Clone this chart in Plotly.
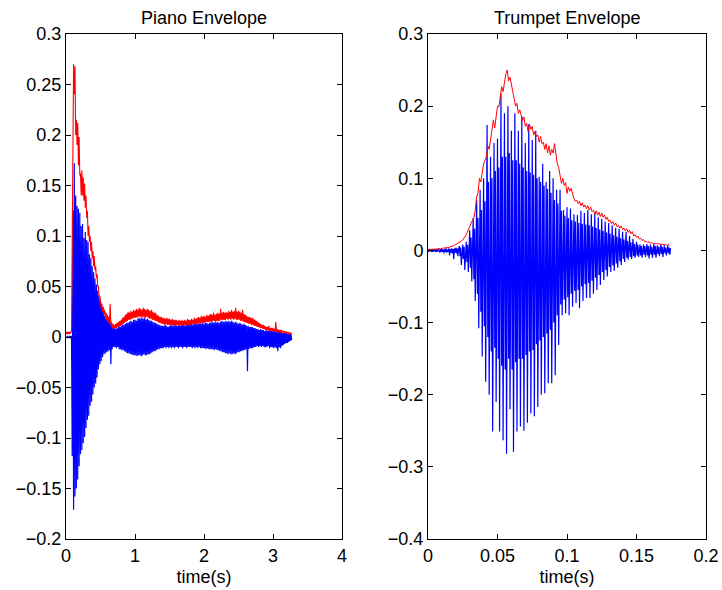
import numpy as np
import plotly.graph_objects as go

# Sample spacing of each recording (seconds)
piano_dt = 0.01
trumpet_dt = 0.0005
trumpet_env_dt = 0.001

# Piano waveform (alternating crest / trough samples), 0.1 s per row
piano_signal = [
    0.0, -0.001, 0.001, -0.001, 0.0, -0.001, 0.001, -0.001, 0.001, -0.118,
    0.125, -0.171, 0.172, -0.158, 0.14, -0.15, 0.13, -0.141, 0.127, -0.128,
    0.123, -0.116, 0.11, -0.112, 0.112, -0.105, 0.098, -0.099, 0.104, -0.09,
    0.096, -0.082, 0.094, -0.078, 0.082, -0.068, 0.078, -0.064, 0.07, -0.057,
    0.064, -0.05, 0.058, -0.046, 0.052, -0.04, 0.046, -0.032, 0.041, -0.027,
    0.036, -0.024, 0.03, -0.02, 0.027, -0.017, 0.021, -0.016, 0.019, -0.015,
    0.018, -0.014, 0.016, -0.013, 0.014, -0.027, 0.012, -0.012, 0.01, -0.01,
    0.009, -0.01, 0.008, -0.011, 0.009, -0.01, 0.01, -0.012, 0.01, -0.012,
    0.011, -0.013, 0.012, -0.013, 0.012, -0.014, 0.013, -0.015, 0.014, -0.016,
    0.014, -0.016, 0.015, -0.017, 0.016, -0.017, 0.015, -0.018, 0.017, -0.018,
    0.017, -0.018, 0.016, -0.019, 0.018, -0.018, 0.019, -0.018, 0.018, -0.019,
    0.019, -0.018, 0.018, -0.017, 0.019, -0.018, 0.017, -0.018, 0.018, -0.017,
    0.017, -0.017, 0.016, -0.016, 0.016, -0.015, 0.015, -0.014, 0.014, -0.014,
    0.014, -0.013, 0.013, -0.012, 0.012, -0.012, 0.012, -0.011, 0.011, -0.011,
    0.011, -0.011, 0.011, -0.01, 0.012, -0.011, 0.011, -0.01, 0.01, -0.011,
    0.011, -0.01, 0.012, -0.011, 0.011, -0.01, 0.011, -0.011, 0.012, -0.01,
    0.011, -0.01, 0.011, -0.011, 0.012, -0.01, 0.011, -0.01, 0.012, -0.011,
    0.012, -0.01, 0.011, -0.01, 0.012, -0.011, 0.012, -0.01, 0.013, -0.01,
    0.012, -0.01, 0.013, -0.011, 0.012, -0.01, 0.013, -0.011, 0.013, -0.01,
    0.013, -0.011, 0.013, -0.01, 0.014, -0.011, 0.013, -0.011, 0.014, -0.011,
    0.013, -0.011, 0.014, -0.012, 0.014, -0.011, 0.013, -0.012, 0.014, -0.012,
    0.014, -0.012, 0.015, -0.012, 0.014, -0.013, 0.015, -0.012, 0.014, -0.013,
    0.015, -0.013, 0.014, -0.014, 0.015, -0.014, 0.016, -0.015, 0.015, -0.015,
    0.015, -0.016, 0.016, -0.016, 0.015, -0.017, 0.016, -0.016, 0.015, -0.017,
    0.016, -0.017, 0.015, -0.016, 0.014, -0.017, 0.015, -0.016, 0.014, -0.015,
    0.013, -0.015, 0.014, -0.014, 0.013, -0.014, 0.012, -0.013, 0.013, -0.013,
    0.012, -0.012, 0.011, -0.034, 0.011, -0.012, 0.01, -0.011, 0.01, -0.011,
    0.01, -0.011, 0.009, -0.01, 0.009, -0.01, 0.008, -0.009, 0.008, -0.01,
    0.007, -0.009, 0.008, -0.01, 0.007, -0.009, 0.007, -0.01, 0.006, -0.01,
    0.007, -0.01, 0.006, -0.009, 0.006, -0.011, 0.007, -0.01, 0.006, -0.01,
    0.006, -0.011, 0.005, -0.01, 0.006, -0.011, 0.005, -0.014, 0.005, -0.01,
    0.005, -0.011, 0.005, -0.009, 0.004, -0.008, 0.004, -0.007, 0.004, -0.006,
    0.004, -0.006, 0.003, -0.005, 0.003, -0.004, 0.003, -0.003,
]

# Piano amplitude envelope, same spacing
piano_envelope = [
    0.005, 0.003, 0.005, 0.003, 0.005, 0.003, 0.005, 0.004, 0.006, 0.126,
    0.17, 0.27, 0.24, 0.268, 0.2, 0.215, 0.19, 0.212, 0.17, 0.198,
    0.16, 0.162, 0.14, 0.165, 0.14, 0.158, 0.135, 0.152, 0.128, 0.14,
    0.118, 0.125, 0.1, 0.11, 0.094, 0.1, 0.085, 0.094, 0.078, 0.085,
    0.07, 0.08, 0.066, 0.07, 0.058, 0.062, 0.05, 0.05, 0.04, 0.04,
    0.036, 0.028, 0.033, 0.025, 0.03, 0.022, 0.027, 0.02, 0.024, 0.017,
    0.022, 0.015, 0.02, 0.013, 0.033, 0.012, 0.015, 0.009, 0.013, 0.008,
    0.012, 0.008, 0.013, 0.009, 0.014, 0.01, 0.015, 0.01, 0.016, 0.011,
    0.017, 0.012, 0.019, 0.013, 0.02, 0.014, 0.022, 0.015, 0.023, 0.016,
    0.025, 0.017, 0.024, 0.017, 0.026, 0.018, 0.025, 0.018, 0.027, 0.019,
    0.026, 0.019, 0.028, 0.019, 0.027, 0.02, 0.029, 0.02, 0.028, 0.019,
    0.027, 0.02, 0.029, 0.019, 0.028, 0.019, 0.027, 0.02, 0.028, 0.019,
    0.027, 0.018, 0.026, 0.018, 0.027, 0.017, 0.025, 0.017, 0.024, 0.016,
    0.024, 0.016, 0.022, 0.015, 0.021, 0.014, 0.02, 0.014, 0.02, 0.013,
    0.019, 0.013, 0.019, 0.012, 0.018, 0.013, 0.019, 0.012, 0.018, 0.012,
    0.018, 0.012, 0.017, 0.012, 0.018, 0.011, 0.017, 0.012, 0.017, 0.011,
    0.017, 0.012, 0.016, 0.011, 0.017, 0.012, 0.016, 0.011, 0.017, 0.012,
    0.016, 0.011, 0.017, 0.012, 0.016, 0.012, 0.018, 0.012, 0.017, 0.012,
    0.017, 0.012, 0.018, 0.013, 0.017, 0.012, 0.019, 0.013, 0.018, 0.013,
    0.019, 0.013, 0.02, 0.014, 0.019, 0.013, 0.021, 0.014, 0.02, 0.014,
    0.021, 0.014, 0.02, 0.015, 0.022, 0.015, 0.021, 0.015, 0.022, 0.015,
    0.023, 0.015, 0.022, 0.016, 0.024, 0.016, 0.022, 0.015, 0.023, 0.016,
    0.024, 0.016, 0.023, 0.016, 0.028, 0.017, 0.024, 0.017, 0.025, 0.017,
    0.024, 0.017, 0.025, 0.018, 0.024, 0.017, 0.026, 0.018, 0.025, 0.017,
    0.027, 0.018, 0.025, 0.017, 0.026, 0.018, 0.029, 0.017, 0.025, 0.017,
    0.026, 0.017, 0.025, 0.016, 0.024, 0.016, 0.027, 0.015, 0.023, 0.015,
    0.022, 0.014, 0.021, 0.014, 0.02, 0.013, 0.02, 0.013, 0.019, 0.012,
    0.019, 0.012, 0.018, 0.011, 0.017, 0.011, 0.016, 0.01, 0.015, 0.01,
    0.014, 0.009, 0.013, 0.009, 0.012, 0.008, 0.012, 0.008, 0.011, 0.007,
    0.01, 0.007, 0.01, 0.006, 0.011, 0.006, 0.009, 0.006, 0.009, 0.006,
    0.009, 0.005, 0.008, 0.005, 0.015, 0.005, 0.008, 0.005, 0.007, 0.005,
    0.007, 0.004, 0.007, 0.005, 0.006, 0.004, 0.006, 0.004, 0.005, 0.004,
    0.005, 0.004, 0.005, 0.003, 0.004, 0.003, 0.004, 0.003,
]

# Trumpet waveform: quiet lead-in, then one row per two pitch periods
trumpet_signal = [
    0.001, -0.002, 0.002, -0.001, 0.001, -0.002, 0.002, -0.002, 0.001, -0.001,
    0.002, -0.002, 0.001, -0.002, 0.002, -0.001, 0.001, -0.003, 0.002, -0.002,
    0.002, -0.002, 0.001, -0.004, 0.002, -0.002, 0.003, -0.003, 0.001, -0.002,
    0.003, -0.007, 0.002, -0.003, 0.003, -0.004, 0.002, -0.012, 0.003, -0.003,
    0.004, -0.004, 0.003, -0.008, 0.002, 0.006, -0.008, 0.004, -0.02, 0.003,
    0.008, -0.012, 0.005, -0.027, 0.004, 0.012, -0.016, 0.008, -0.03, 0.006,
    0.028, -0.024, 0.018, -0.043, 0.012, 0.045, -0.04, 0.03, -0.07, 0.02,
    0.07, -0.06, 0.045, -0.108, 0.032, 0.084, -0.085, 0.056, -0.147, 0.04,
    0.1, -0.105, 0.068, -0.182, 0.048, 0.174, -0.12, 0.095, -0.2, 0.065,
    0.13, -0.14, 0.1, -0.251, 0.07, 0.149, -0.135, 0.11, -0.21, 0.08,
    0.155, -0.15, 0.115, -0.251, 0.085, 0.218, -0.16, 0.13, -0.263, 0.095,
    0.19, -0.165, 0.13, -0.282, 0.1, 0.2, -0.15, 0.135, -0.22, 0.1,
    0.166, -0.165, 0.125, -0.279, 0.095, 0.19, -0.155, 0.125, -0.251, 0.095,
    0.166, -0.15, 0.12, -0.244, 0.09, 0.186, -0.15, 0.115, -0.25, 0.088,
    0.149, -0.145, 0.11, -0.239, 0.085, 0.175, -0.14, 0.108, -0.226, 0.08,
    0.153, -0.138, 0.105, -0.23, 0.078, 0.166, -0.13, 0.1, -0.217, 0.075,
    0.102, -0.125, 0.095, -0.2, 0.07, 0.12, -0.12, 0.09, -0.198, 0.068,
    0.095, -0.115, 0.085, -0.184, 0.062, 0.11, -0.11, 0.08, -0.184, 0.058,
    0.1, -0.1, 0.07, -0.173, 0.055, 0.084, -0.09, 0.065, -0.131, 0.05,
    0.084, -0.075, 0.055, -0.09, 0.045, 0.056, -0.068, 0.048, -0.087, 0.04,
    0.06, -0.065, 0.045, -0.09, 0.038, 0.058, -0.06, 0.042, -0.078, 0.035,
    0.05, -0.056, 0.04, -0.073, 0.033, 0.049, -0.055, 0.038, -0.08, 0.031,
    0.055, -0.05, 0.037, -0.07, 0.03, 0.052, -0.047, 0.036, -0.066, 0.029,
    0.056, -0.045, 0.035, -0.066, 0.028, 0.05, -0.042, 0.033, -0.06, 0.026,
    0.052, -0.038, 0.031, -0.055, 0.024, 0.046, -0.034, 0.029, -0.048, 0.022,
    0.044, -0.03, 0.027, -0.041, 0.02, 0.04, -0.027, 0.025, -0.036, 0.018,
    0.038, -0.023, 0.023, -0.03, 0.017, 0.035, -0.021, 0.021, -0.028, 0.015,
    0.031, -0.018, 0.019, -0.024, 0.014, 0.03, -0.015, 0.017, -0.02, 0.012,
    0.026, -0.012, 0.015, -0.016, 0.011, 0.026, -0.01, 0.013, -0.013, 0.01,
    0.02, -0.009, 0.011, -0.012, 0.008, 0.016, -0.008, 0.009, -0.01, 0.007,
    0.012, -0.007, 0.008, -0.009, 0.006, 0.008, -0.007, 0.006, -0.01, 0.005,
    0.008, -0.006, 0.006, -0.009, 0.005, 0.009, -0.007, 0.006, -0.011, 0.005,
    0.008, -0.006, 0.005, -0.01, 0.004, 0.009, -0.006, 0.006, -0.01, 0.004,
    0.007, -0.005, 0.005, -0.008, 0.004, 0.008, -0.005, 0.005, -0.009, 0.004,
    0.007, -0.004, 0.004, -0.007, 0.003, 0.007, -0.004, 0.004, -0.006, 0.003,
]

# Trumpet amplitude envelope, 1 ms spacing
trumpet_envelope = [
    0.001, 0.001, 0.002, 0.001, 0.002, 0.002, 0.002, 0.002, 0.003, 0.002,
    0.003, 0.003, 0.003, 0.004, 0.003, 0.004, 0.005, 0.005, 0.006, 0.007,
    0.008, 0.009, 0.01, 0.012, 0.013, 0.015, 0.017, 0.02, 0.024, 0.03,
    0.033, 0.038, 0.042, 0.045, 0.056, 0.074, 0.08, 0.1, 0.095, 0.11,
    0.12, 0.125, 0.13, 0.145, 0.14, 0.153, 0.165, 0.181, 0.17, 0.19,
    0.2, 0.199, 0.215, 0.227, 0.22, 0.235, 0.245, 0.25, 0.235, 0.24,
    0.227, 0.22, 0.21, 0.2, 0.204, 0.19, 0.195, 0.185, 0.18, 0.185,
    0.172, 0.176, 0.165, 0.175, 0.168, 0.172, 0.16, 0.165, 0.158, 0.16,
    0.15, 0.158, 0.148, 0.15, 0.14, 0.148, 0.135, 0.145, 0.132, 0.14,
    0.135, 0.148, 0.13, 0.12, 0.115, 0.105, 0.093, 0.1, 0.09, 0.094,
    0.079, 0.088, 0.082, 0.086, 0.078, 0.072, 0.068, 0.07, 0.065, 0.068,
    0.062, 0.066, 0.06, 0.063, 0.058, 0.062, 0.056, 0.06, 0.054, 0.056,
    0.05, 0.055, 0.049, 0.053, 0.047, 0.052, 0.046, 0.049, 0.043, 0.046,
    0.04, 0.042, 0.037, 0.04, 0.035, 0.038, 0.033, 0.035, 0.031, 0.034,
    0.029, 0.031, 0.027, 0.03, 0.025, 0.028, 0.023, 0.026, 0.02, 0.022,
    0.018, 0.02, 0.016, 0.017, 0.014, 0.015, 0.012, 0.013, 0.011, 0.012,
    0.01, 0.011, 0.009, 0.01, 0.009, 0.01, 0.009, 0.009, 0.008, 0.009,
    0.008, 0.008, 0.007, 0.008, 0.007,
]

# Axis ticks
piano_xticks = [0, 1, 2, 3, 4]
piano_xlabels = ["0", "1", "2", "3", "4"]
piano_yticks = [-0.2, -0.15, -0.1, -0.05, 0, 0.05, 0.1, 0.15, 0.2, 0.25, 0.3]
piano_ylabels = ["\u22120.2", "\u22120.15", "\u22120.1", "\u22120.05", "0",
                 "0.05", "0.1", "0.15", "0.2", "0.25", "0.3"]
trumpet_xticks = [0, 0.05, 0.1, 0.15, 0.2]
trumpet_xlabels = ["0", "0.05", "0.1", "0.15", "0.2"]
trumpet_yticks = [-0.4, -0.3, -0.2, -0.1, 0, 0.1, 0.2, 0.3]
trumpet_ylabels = ["\u22120.4", "\u22120.3", "\u22120.2", "\u22120.1", "0",
                   "0.1", "0.2", "0.3"]

titles = ["Piano Envelope", "Trumpet Envelope"]
xlabel = "time(s)"

BLUE = "#0000ff"
RED = "#ff0000"
FONT = "Liberation Sans, Arial, Helvetica, sans-serif"
FS = 18

t_piano = np.arange(len(piano_signal)) * piano_dt
t_piano_env = np.arange(len(piano_envelope)) * piano_dt
t_trumpet = np.arange(len(trumpet_signal)) * trumpet_dt
t_trumpet_env = np.arange(len(trumpet_envelope)) * trumpet_env_dt

fig = go.Figure()
fig.add_trace(go.Scatter(x=t_piano, y=piano_signal, mode="lines",
                         line=dict(color=BLUE, width=1.2), xaxis="x", yaxis="y"))
fig.add_trace(go.Scatter(x=t_piano_env, y=piano_envelope, mode="lines",
                         line=dict(color=RED, width=1.1), xaxis="x", yaxis="y"))
fig.add_trace(go.Scatter(x=t_trumpet, y=trumpet_signal, mode="lines",
                         line=dict(color=BLUE, width=1.2), xaxis="x2", yaxis="y2"))
fig.add_trace(go.Scatter(x=t_trumpet_env, y=trumpet_envelope, mode="lines",
                         line=dict(color=RED, width=1), xaxis="x2", yaxis="y2"))

axis_style = dict(
    showline=True, linecolor="black", linewidth=1, mirror="ticks",
    ticks="inside", ticklen=5, tickwidth=1, tickcolor="black",
    showgrid=False, zeroline=False, automargin=False,
    tickfont=dict(family=FONT, size=FS, color="black"),
)

xdom1 = [0, 276 / 640]
xdom2 = [362 / 640, 1]

fig.update_layout(
    template="none",
    width=722, height=590,
    margin=dict(l=66, r=16, t=34, b=51),
    paper_bgcolor="white", plot_bgcolor="white",
    showlegend=False,
    font=dict(family=FONT, size=FS, color="black"),
    xaxis=dict(domain=xdom1, anchor="y", range=[0, 4],
               tickvals=piano_xticks, ticktext=piano_xlabels,
               title=dict(text=xlabel, font=dict(family=FONT, size=FS), standoff=5),
               **axis_style),
    yaxis=dict(domain=[0, 1], anchor="x", range=[-0.2, 0.3],
               tickvals=piano_yticks, ticktext=piano_ylabels, **axis_style),
    xaxis2=dict(domain=xdom2, anchor="y2", range=[0, 0.2],
                tickvals=trumpet_xticks, ticktext=trumpet_xlabels,
                title=dict(text=xlabel, font=dict(family=FONT, size=FS), standoff=5),
                **axis_style),
    yaxis2=dict(domain=[0, 1], anchor="x2", range=[-0.4, 0.3],
                tickvals=trumpet_yticks, ticktext=trumpet_ylabels, **axis_style),
)

for title, dom in zip(titles, [xdom1, xdom2]):
    fig.add_annotation(text=title, xref="paper", yref="paper",
                       x=(dom[0] + dom[1]) / 2, y=1, xanchor="center",
                       yanchor="bottom", yshift=4, showarrow=False,
                       font=dict(family=FONT, size=FS, color="black"))

fig.write_html("out.html")
